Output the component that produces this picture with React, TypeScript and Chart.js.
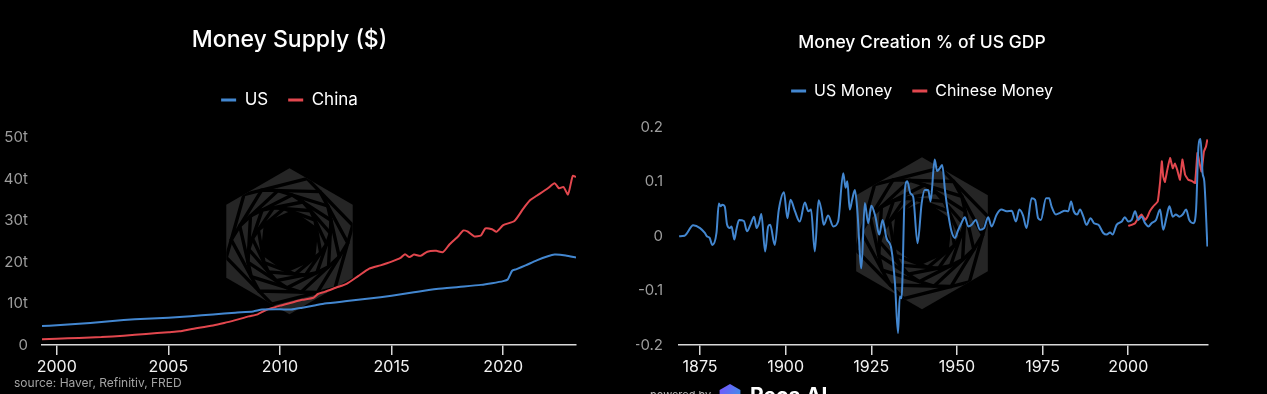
import React, { useEffect, useRef } from 'react';
import { Chart, registerables } from 'chart.js';

Chart.register(...registerables);

// ---------- Money Supply ($, trillions) ----------
const usSupplyYears = [1999.34, 2000, 2001, 2002, 2003, 2004, 2005, 2006, 2007, 2008, 2008.8, 2009.2, 2010, 2010.5, 2011, 2011.6, 2012, 2013, 2014, 2015, 2016, 2017, 2018, 2019, 2019.5, 2020, 2020.2, 2020.4, 2020.6, 2021, 2021.5, 2022, 2022.3, 2022.8, 2023.26];
const usSupplyValues = [4.6, 4.75, 5.1, 5.55, 6.0, 6.35, 6.6, 6.95, 7.35, 7.8, 8.1, 8.55, 8.6, 8.55, 9.0, 9.6, 10.0, 10.6, 11.2, 11.9, 12.7, 13.5, 14.0, 14.5, 14.9, 15.4, 15.8, 17.9, 18.3, 19.2, 20.4, 21.4, 21.8, 21.6, 21.1];
const chinaSupplyYears = [1999.34, 2000, 2001, 2002, 2003, 2004, 2005, 2005.5, 2006, 2007, 2007.5, 2008, 2008.6, 2009, 2009.4, 2010, 2010.5, 2011, 2011.5, 2011.7, 2012, 2012.5, 2013, 2013.5, 2014, 2014.5, 2015, 2015.4, 2015.6, 2015.8, 2016, 2016.3, 2016.6, 2017, 2017.3, 2017.6, 2018, 2018.2, 2018.4, 2018.7, 2019, 2019.2, 2019.5, 2019.7, 2020, 2020.5, 2020.9, 2021.2, 2021.5, 2022, 2022.3, 2022.5, 2022.7, 2022.9, 2023.05, 2023.12, 2023.26];
const chinaSupplyValues = [1.4, 1.5, 1.7, 1.9, 2.25, 2.65, 3.1, 3.3, 3.8, 4.7, 5.3, 6.0, 6.9, 7.4, 8.5, 9.5, 10.2, 10.9, 11.4, 12.3, 12.8, 13.8, 14.8, 16.6, 18.4, 19.2, 20.1, 21.0, 21.9, 21.2, 21.8, 21.5, 22.5, 22.7, 22.4, 24.3, 26.3, 27.6, 27.4, 26.2, 26.4, 28.1, 27.9, 27.3, 28.9, 29.9, 32.9, 34.9, 36.0, 37.8, 39.0, 37.8, 38.1, 36.3, 39.5, 40.8, 40.5];
const supplyTickYears = [2000, 2005, 2010, 2015, 2020];
const supplyTickValues = [0, 10, 20, 30, 40, 50];

// ---------- Money Creation % of US GDP ----------
const usMoneyYears = [1868.9, 1870.5, 1873, 1875, 1876.4, 1877, 1877.8, 1878.6, 1879.8, 1880.5, 1881, 1881.5, 1882.2, 1882.9, 1883.7, 1884.2, 1885, 1885.6, 1886.4, 1887.8, 1888.7, 1889.7, 1890.8, 1891.5, 1892.2, 1892.9, 1894, 1894.9, 1895.5, 1896.8, 1898, 1899.5, 1900.5, 1901.4, 1902.7, 1904.1, 1905.6, 1906.6, 1907.4, 1908.5, 1909.6, 1910.4, 1911.1, 1912.4, 1913.9, 1915.3, 1916.8, 1917.5, 1918, 1918.7, 1919.4, 1920.2, 1920.9, 1922.1, 1923.1, 1924.1, 1925, 1926.2, 1927.3, 1928.3, 1929.4, 1930.9, 1931.9, 1932.8, 1933.3, 1933.8, 1934.8, 1935.5, 1936.4, 1937.2, 1938.5, 1939.7, 1940.6, 1941.6, 1942.3, 1943.5, 1944.2, 1945, 1945.7, 1946.5, 1947.4, 1948.4, 1949.4, 1950.4, 1951.3, 1952.3, 1953.3, 1954.3, 1955.5, 1956.7, 1957.9, 1959.1, 1960.1, 1961.6, 1963, 1964.5, 1966, 1967.2, 1968.2, 1969.3, 1970.3, 1971.8, 1972.8, 1973.7, 1974.5, 1976, 1976.9, 1977.6, 1978.9, 1980.1, 1981.5, 1982.5, 1983.3, 1984.1, 1985.1, 1985.9, 1986.9, 1987.8, 1989, 1990, 1991.3, 1992.7, 1993.7, 1994.7, 1995.4, 1996.6, 1998.1, 1999, 2000, 2001, 2002, 2002.9, 2003.9, 2004.9, 2005.9, 2006.8, 2008.1, 2009.3, 2010.2, 2011.2, 2012, 2013, 2013.9, 2014.9, 2015.9, 2016.9, 2017.8, 2019, 2019.8, 2020.5, 2021.1, 2021.7, 2022.2, 2023.1];
const usMoneyValues = [0.0, 0.001, 0.02, 0.015, 0.006, 0.0, -0.003, -0.016, 0.006, 0.06, 0.055, 0.058, 0.055, 0.021, 0.015, 0.018, -0.006, 0.012, 0.03, 0.028, 0.009, 0.021, 0.036, 0.015, 0.024, 0.041, -0.028, 0.018, 0.021, -0.016, 0.049, 0.081, 0.033, 0.067, 0.046, 0.027, 0.062, 0.046, 0.049, -0.028, 0.066, 0.049, 0.021, 0.038, 0.018, 0.027, 0.116, 0.089, 0.101, 0.049, 0.067, 0.085, 0.049, -0.059, 0.061, 0.024, 0.056, 0.036, 0.003, 0.03, -0.003, -0.025, -0.086, -0.178, -0.111, -0.114, 0.085, 0.101, 0.079, 0.073, -0.013, 0.061, 0.085, 0.085, 0.064, 0.141, 0.12, 0.125, 0.131, 0.085, 0.043, 0.009, -0.003, 0.012, 0.024, 0.035, 0.018, 0.021, 0.03, 0.012, 0.015, 0.035, 0.018, 0.04, 0.049, 0.046, 0.047, 0.027, 0.049, 0.038, 0.015, 0.07, 0.067, 0.033, 0.03, 0.07, 0.07, 0.055, 0.04, 0.043, 0.047, 0.046, 0.064, 0.046, 0.04, 0.049, 0.036, 0.021, 0.033, 0.024, 0.021, 0.006, 0.003, 0.007, 0.003, 0.021, 0.027, 0.035, 0.027, 0.03, 0.046, 0.03, 0.036, 0.024, 0.018, 0.024, 0.03, 0.049, 0.012, 0.036, 0.055, 0.036, 0.04, 0.036, 0.04, 0.049, 0.03, 0.024, 0.049, 0.165, 0.179, 0.116, 0.101, -0.019];
const cnMoneyYears = [2000, 2001, 2002, 2002.9, 2003.9, 2004.9, 2005.6, 2006.3, 2007.3, 2008.6, 2009.3, 2009.8, 2010.2, 2010.7, 2011.4, 2012.2, 2013, 2013.6, 2014.3, 2015.1, 2015.8, 2016.6, 2017.5, 2018.5, 2019.5, 2020.2, 2020.8, 2021.4, 2022.1, 2022.7, 2023.1];
const cnMoneyValues = [0.019, 0.021, 0.024, 0.033, 0.04, 0.03, 0.036, 0.046, 0.055, 0.064, 0.1, 0.138, 0.11, 0.1, 0.122, 0.144, 0.125, 0.134, 0.122, 0.104, 0.141, 0.113, 0.104, 0.102, 0.098, 0.153, 0.135, 0.119, 0.156, 0.165, 0.178];
const creationTickYears = [1875, 1900, 1925, 1950, 1975, 2000];
const creationTickValues = [-0.2, -0.1, 0, 0.1, 0.2];

const BLUE = '#4387d0';
const RED = '#e2474e';
const FONT = "Inter, 'Noto Sans', sans-serif";

function toPoints(xs: number[], ys: number[]) {
  return xs.map((x, i) => ({ x, y: ys[i] }));
}

function hexPts(cx: number, cy: number, r: number) {
  const pts: [number, number][] = [];
  for (let k = 0; k < 6; k++) {
    const a = (-90 + 60 * k) * Math.PI / 180;
    pts.push([cx + r * Math.cos(a), cy + r * Math.sin(a)]);
  }
  return pts;
}

function pathPoly(ctx: CanvasRenderingContext2D, pts: [number, number][]) {
  ctx.beginPath();
  pts.forEach((p, i) => (i === 0 ? ctx.moveTo(p[0], p[1]) : ctx.lineTo(p[0], p[1])));
  ctx.closePath();
}

const hexWatermark = {
  id: 'hexWatermark',
  beforeDatasetsDraw(chart: any, _args: any, opts: any) {
    const { ctx, chartArea } = chart;
    const yScale = chart.scales.y;
    const cx = (chart.legend.left + chart.legend.right) / 2;
    const topTick = yScale.ticks[yScale.ticks.length - 1].value;
    const cy = (yScale.getPixelForValue(topTick) + chartArea.bottom) / 2 + (opts.dy || 0);
    const R = opts.radius || 73;
    ctx.save();
    let pts = hexPts(cx, cy, R);
    pathPoly(ctx, pts);
    ctx.fillStyle = '#252525';
    ctx.fill();
    ctx.clip();
    ctx.strokeStyle = '#000';
    ctx.lineWidth = 3.4;
    ctx.lineJoin = 'miter';
    for (let i = 0; i < 8; i++) {
      const next = pts.map((p, k) => {
        const q = pts[(k + 1) % 6];
        return [p[0] + (q[0] - p[0]) * 0.28, p[1] + (q[1] - p[1]) * 0.28] as [number, number];
      });
      pathPoly(ctx, next);
      ctx.stroke();
      pts = next;
    }
    pathPoly(ctx, pts);
    ctx.fillStyle = '#000';
    ctx.fill();
    ctx.restore();
  },
};

function legendLabels(chart: any) {
  return Chart.defaults.plugins.legend.labels.generateLabels(chart).map((l: any) => ({
    ...l,
    pointStyle: 'line',
    lineWidth: 3,
  }));
}

function xAxis(min: number, max: number, ticks: number[]) {
  return {
    type: 'linear' as const,
    min,
    max,
    afterBuildTicks: (s: any) => { s.ticks = ticks.map((v) => ({ value: v })); },
    afterFit: (s: any) => { s.height = 27; },
    ticks: { color: '#f2f2f2', font: { size: 16, family: FONT }, padding: 3, maxRotation: 0, autoSkip: false, callback: (v: any) => String(v) },
    grid: { display: true, drawOnChartArea: false, drawTicks: true, tickLength: 10, color: '#d9d9d9', lineWidth: 1.5 },
    border: { display: true, color: '#d9d9d9', width: 1.5 },
  };
}

function supplyConfig(): any {
  return {
    type: 'line',
    data: {
      datasets: [
        { label: 'US', data: toPoints(usSupplyYears, usSupplyValues), borderColor: BLUE, backgroundColor: BLUE, borderWidth: 2, pointRadius: 0, tension: 0.2 },
        { label: 'China', data: toPoints(chinaSupplyYears, chinaSupplyValues), borderColor: RED, backgroundColor: RED, borderWidth: 2, pointRadius: 0, tension: 0.2 },
      ],
    },
    options: {
      animation: false,
      responsive: false,
      layout: { padding: { left: 3, right: 14, top: 0, bottom: 22 } },
      plugins: {
        title: { display: true, text: 'Money Supply ($)', color: '#ffffff', font: { size: 23, weight: '500', family: FONT }, padding: { top: 26, bottom: 18 } },
        legend: {
          display: true,
          position: 'top',
          labels: { color: '#ffffff', font: { size: 17, family: FONT }, usePointStyle: true, pointStyle: 'line', pointStyleWidth: 15, padding: 20, generateLabels: legendLabels },
        },
        tooltip: { enabled: false },
        hexWatermark: { radius: 73 },
      },
      scales: {
        x: xAxis(1999.34, 2023.26, supplyTickYears),
        y: {
          type: 'linear',
          min: 0,
          max: 54.6,
          afterBuildTicks: (s: any) => { s.ticks = supplyTickValues.map((v) => ({ value: v })); },
          afterFit: (s: any) => { s.width = 39; },
          ticks: { color: '#9d9d9d', font: { size: 15, family: FONT }, padding: 14, callback: (v: any) => (v === 0 ? '0' : v + 't') },
          grid: { display: false, drawTicks: false },
          border: { display: false },
        },
      },
    },
    plugins: [hexWatermark],
  };
}

function creationConfig(): any {
  return {
    type: 'line',
    data: {
      datasets: [
        { label: 'US Money', data: toPoints(usMoneyYears, usMoneyValues), borderColor: BLUE, backgroundColor: BLUE, borderWidth: 2, pointRadius: 0, cubicInterpolationMode: 'monotone' },
        { label: 'Chinese Money', data: toPoints(cnMoneyYears, cnMoneyValues), borderColor: RED, backgroundColor: RED, borderWidth: 2, pointRadius: 0, tension: 0.1 },
      ],
    },
    options: {
      animation: false,
      responsive: false,
      layout: { padding: { left: 16, right: 10, top: 0, bottom: 22 } },
      plugins: {
        title: { display: true, text: 'Money Creation % of US GDP', color: '#ffffff', font: { size: 17.5, weight: '500', family: FONT }, padding: { top: 32, bottom: 10 } },
        legend: {
          display: true,
          position: 'top',
          labels: { color: '#ffffff', font: { size: 16, family: FONT }, usePointStyle: true, pointStyle: 'line', pointStyleWidth: 15, padding: 20, generateLabels: legendLabels },
        },
        tooltip: { enabled: false },
        hexWatermark: { radius: 76, dy: -3 },
      },
      scales: {
        x: xAxis(1868.86, 2023.28, creationTickYears),
        y: {
          type: 'linear',
          min: -0.2,
          max: 0.234,
          afterBuildTicks: (s: any) => { s.ticks = creationTickValues.map((v) => ({ value: v })); },
          afterFit: (s: any) => { s.width = 43; },
          ticks: { color: '#9d9d9d', font: { size: 15, family: FONT }, padding: 16, callback: (v: any) => String(Math.round(v * 10) / 10) },
          grid: { display: false, drawTicks: false },
          border: { display: false },
        },
      },
    },
    plugins: [hexWatermark],
  };
}

function ChartCanvas({ left, width, makeConfig }: { left: number; width: number; makeConfig: () => any }) {
  const ref = useRef<HTMLCanvasElement | null>(null);
  useEffect(() => {
    if (!ref.current) return;
    const chart = new Chart(ref.current, makeConfig());
    return () => chart.destroy();
  }, []);
  return (
    <canvas
      ref={ref}
      width={width}
      height={394}
      style={{ position: 'absolute', left, top: 0, width, height: 394 }}
    />
  );
}

export default function App() {
  useEffect(() => {
    document.body.style.margin = '0';
    document.body.style.background = '#000';
  }, []);
  return (
    <div style={{ position: 'fixed', left: 0, top: 0, width: 1267, height: 394, background: '#000', overflow: 'hidden', fontFamily: FONT }}>
      <ChartCanvas left={0} width={590} makeConfig={supplyConfig} />
      <ChartCanvas left={620} width={598} makeConfig={creationConfig} />
      <div style={{ position: 'absolute', left: 14, top: 376, fontSize: 12, lineHeight: '14px', color: '#a3a3a3', whiteSpace: 'nowrap' }}>
        source: Haver, Refinitiv, FRED
      </div>
      <div style={{ position: 'absolute', left: 650, top: 389, fontSize: 11, lineHeight: '12px', color: '#b5b5b5', whiteSpace: 'nowrap' }}>
        powered by
      </div>
      <svg style={{ position: 'absolute', left: 718, top: 383 }} width={24} height={26} viewBox="0 0 24 26">
        <defs>
          <linearGradient id="lg" x1="0" y1="0" x2="1" y2="1">
            <stop offset="0" stopColor="#7b4dff" />
            <stop offset="1" stopColor="#2aa8e0" />
          </linearGradient>
        </defs>
        <polygon points="12,1 22.4,7 22.4,19 12,25 1.6,19 1.6,7" fill="url(#lg)" />
      </svg>
      <div style={{ position: 'absolute', left: 750, top: 385, fontSize: 21, lineHeight: '21px', fontWeight: 700, color: '#ffffff', whiteSpace: 'nowrap' }}>
        Reca AI
      </div>
    </div>
  );
}
